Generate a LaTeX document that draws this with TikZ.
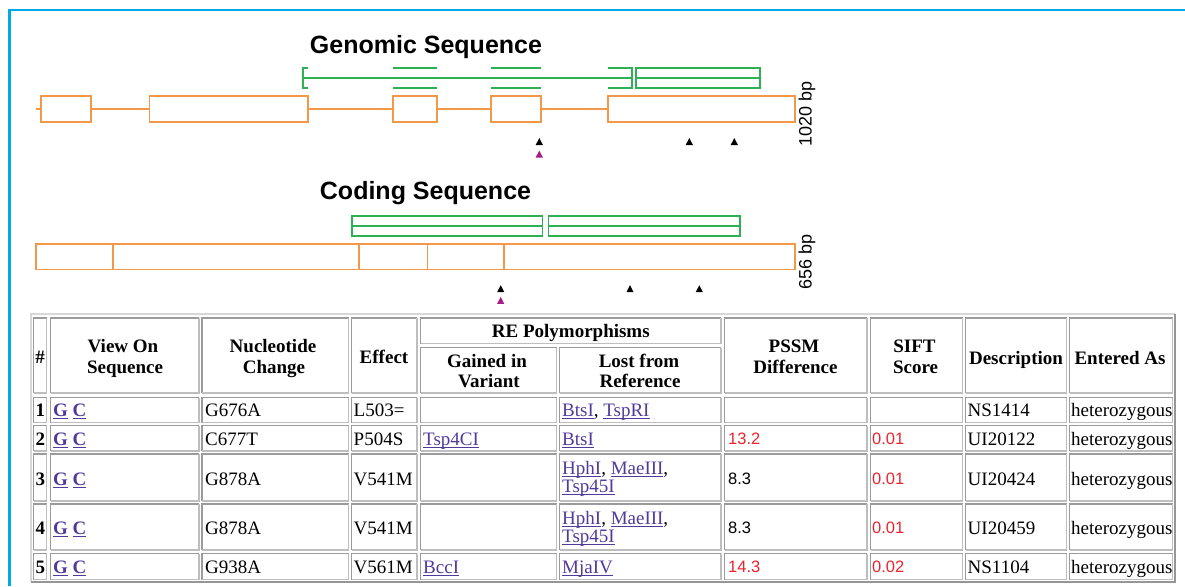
\documentclass[tikz,border=0pt]{standalone}
\usepackage{fontspec}
\setmainfont{Liberation Serif}
\newfontfamily\sansf{Liberation Sans}
\definecolor{orng}{RGB}{242,152,72}
\definecolor{grn}{RGB}{46,177,84}
\definecolor{frameblue}{RGB}{0,170,230}
\definecolor{magn}{RGB}{165,30,135}
\definecolor{linkc}{RGB}{82,58,155}
\definecolor{redn}{RGB}{235,35,45}
\definecolor{cellD}{RGB}{155,155,155}
\definecolor{cellL}{RGB}{190,190,190}
\definecolor{tabL}{RGB}{215,215,215}
\definecolor{tabD}{RGB}{150,150,150}
\newcommand\bdfont{\fontsize{19}{21}\selectfont}
\newcommand\hdfont{\fontsize{19}{21}\selectfont\bfseries}
\newcommand\ttlfont{\sansf\bfseries\fontsize{25}{28}\selectfont}
\newcommand\numfont{\sansf\fontsize{16.5}{19}\selectfont}
\newcommand\bpfont{\sansf\fontsize{18}{20}\selectfont}
\newlength\ulw
\newcommand\lnk[1]{{\color{linkc}\settowidth\ulw{#1}\rlap{\rule[-2.8pt]{\ulw}{1.1pt}}#1}}
\newcommand\mtri[3]{\fill[#3] (#1-3.6,#2+3.5) -- (#1,#2-3.5) -- (#1+3.6,#2+3.5) -- cycle;}
\newcommand\cellbox[4]{\draw[cellD,line width=1.3pt] (#1,#4) -- (#1,#2) -- (#3,#2);
  \draw[cellL,line width=1.3pt] (#3,#2) -- (#3,#4) -- (#1,#4);}
\tikzset{
  exon/.style={draw=orng, line width=1.8pt, fill=white},
  gl/.style={draw=grn, line width=1.8pt},
  ttl/.style={font=\ttlfont, anchor=base, inner sep=0pt},
  bplab/.style={font=\bpfont, rotate=90, inner sep=0pt},
  hd/.style={font=\hdfont, anchor=base, inner sep=0pt},
  bd/.style={font=\bdfont, anchor=base west, inner sep=0pt},
  bdn/.style={font=\hdfont, anchor=base west, inner sep=0pt},
  num/.style={font=\numfont, anchor=base west, inner sep=0pt},
  rnum/.style={font=\numfont, text=redn, anchor=base west, inner sep=0pt},
}
\begin{document}
\begin{tikzpicture}[x=1pt,y=-1pt]
\useasboundingbox (0,0) rectangle (1185,586);
% frame
\draw[frameblue, line width=2.2pt] (9.5,586) -- (9.5,10) -- (1185,10);

% ===== Genomic sequence =====
\node[ttl] (gtitle) at (426,53) {Genomic Sequence};
% green features
\draw[gl] (308,68) -- (303,68) -- (303,88) -- (308,88);
\draw[gl] (303,78) -- (632,78);
\draw[gl] (393,68) -- (437,68) (393,88) -- (437,88);
\draw[gl] (491,68) -- (541,68) (491,88) -- (541,88);
\draw[gl] (608,68) -- (632,68) -- (632,88) -- (608,88);
\draw[gl] (636,68) rectangle (760,88) (636,78) -- (760,78);
% backbone and exons
\draw[orng, line width=1.8pt] (36,109) -- (608,109);
\draw[exon] (41,96) rectangle (91,122);
\draw[exon] (149.5,96) rectangle (308,122);
\draw[exon] (393,96) rectangle (437,122);
\draw[exon] (491,96) rectangle (541,122);
\draw[exon] (608,96) rectangle (795,122);
\node[bplab] (glen) at (807,113.5) {1020 bp};
\mtri{539.3}{141.5}{black}
\mtri{689.3}{141.5}{black}
\mtri{734.3}{141.5}{black}
\mtri{539.3}{154}{magn}

% ===== Coding sequence =====
\node[ttl] (ctitle) at (425.5,199.5) {Coding Sequence};
\draw[gl] (352,216) rectangle (542.5,236) (352,226) -- (542.5,226);
\draw[gl] (548.5,216) rectangle (740,236) (548.5,226) -- (740,226);
\draw[exon] (36,244) rectangle (795,269.5);
\draw[orng, line width=1.8pt] (113,244) -- (113,269.5) (359,244) -- (359,269.5)
  (427.5,244) -- (427.5,269.5) (504,244) -- (504,269.5);
\node[bplab] (clen) at (807,262) {656 bp};
\mtri{500.7}{288.7}{black}
\mtri{630}{288.7}{black}
\mtri{699.3}{288.7}{black}
\mtri{500.7}{300.4}{magn}

% ===== Table =====
\draw[tabL, line width=1.3pt] (31,582) -- (31,314) -- (1175,314);
\draw[tabD, line width=1.3pt] (31,582) -- (1175,582) -- (1175,314);
% header cells
\cellbox{33.5}{318}{46.5}{393}
\cellbox{50.5}{318}{199}{393}
\cellbox{202}{318}{348.5}{393}
\cellbox{351.5}{318}{417}{393}
\cellbox{420.5}{318}{721}{343.5}
\cellbox{420.5}{347.5}{556.5}{393}
\cellbox{559.5}{347.5}{721}{393}
\cellbox{724.5}{318}{867}{393}
\cellbox{870.5}{318}{962.5}{393}
\cellbox{965.5}{318}{1066.5}{393}
\cellbox{1069.5}{318}{1172.5}{393}
% body cells
\foreach \ya/\yb in {397.5/422.5, 425.5/451, 454/501, 504/550, 553.5/579.5}{
  \cellbox{33.5}{\ya}{46.5}{\yb}
  \cellbox{50.5}{\ya}{199}{\yb}
  \cellbox{202}{\ya}{348.5}{\yb}
  \cellbox{351.5}{\ya}{417}{\yb}
  \cellbox{420.5}{\ya}{556.5}{\yb}
  \cellbox{559.5}{\ya}{721}{\yb}
  \cellbox{724.5}{\ya}{867}{\yb}
  \cellbox{870.5}{\ya}{962.5}{\yb}
  \cellbox{965.5}{\ya}{1066.5}{\yb}
  \cellbox{1069.5}{\ya}{1172.5}{\yb}
}
% header text
\node[hd] (hnum) at (40,363.5) {\#};
\node[hd] (hview1) at (123,352) {View On};
\node[hd] (hview2) at (125,373) {Sequence};
\node[hd] (hnuc1) at (273,352) {Nucleotide};
\node[hd] (hnuc2) at (274,373) {Change};
\node[hd] (heff) at (384,363.5) {Effect};
\node[hd] (hre) at (570.8,337.5) {RE Polymorphisms};
\node[hd] (hgain1) at (487,367) {Gained in};
\node[hd] (hgain2) at (489,387) {Variant};
\node[hd] (hlost1) at (639,367) {Lost from};
\node[hd] (hlost2) at (640,387) {Reference};
\node[hd] (hpssm1) at (794,352) {PSSM};
\node[hd] (hpssm2) at (795.5,373) {Difference};
\node[hd] (hsift1) at (914.5,352) {SIFT};
\node[hd] (hsift2) at (915.5,373) {Score};
\node[hd] (hdesc) at (1016,364.5) {Description};
\node[hd] (hent) at (1120,364.5) {Entered As};

% row 1
\node[bdn] (n1) at (35.5,416) {1};
\node[bdn] (v1) at (53,416) {\lnk{G} \lnk{C}};
\node[bd] (c1) at (205,416) {G676A};
\node[bd] (e1) at (353.5,416) {L503=};
\node[bd] (l1) at (562,416) {\lnk{BtsI}, \lnk{TspRI}};
\node[bd] (d1) at (967.5,416) {NS1414};
\node[bd] (a1) at (1071,416) {heterozygous};
% row 2
\node[bdn] (n2) at (35.5,445) {2};
\node[bdn] (v2) at (53,445) {\lnk{G} \lnk{C}};
\node[bd] (c2) at (205,445) {C677T};
\node[bd] (e2) at (353.5,445) {P504S};
\node[bd] (g2) at (423,445) {\lnk{Tsp4CI}};
\node[bd] (l2) at (562,445) {\lnk{BtsI}};
\node[rnum] (p2) at (728,444.5) {13.2};
\node[rnum] (s2) at (872,444.5) {0.01};
\node[bd] (d2) at (967.5,445) {UI20122};
\node[bd] (a2) at (1071,445) {heterozygous};
% row 3
\node[bdn] (n3) at (35.5,485) {3};
\node[bdn] (v3) at (53,485) {\lnk{G} \lnk{C}};
\node[bd] (c3) at (205,485) {G878A};
\node[bd] (e3) at (353.5,485) {V541M};
\node[bd] (l3a) at (562,474) {\lnk{HphI}, \lnk{MaeIII},};
\node[bd] (l3b) at (562,492.5) {\lnk{Tsp45I}};
\node[num] (p3) at (728,484.5) {8.3};
\node[rnum] (s3) at (872,484.5) {0.01};
\node[bd] (d3) at (967.5,485) {UI20424};
\node[bd] (a3) at (1071,485) {heterozygous};
% row 4
\node[bdn] (n4) at (35.5,534) {4};
\node[bdn] (v4) at (53,534) {\lnk{G} \lnk{C}};
\node[bd] (c4) at (205,534) {G878A};
\node[bd] (e4) at (353.5,534) {V541M};
\node[bd] (l4a) at (562,524) {\lnk{HphI}, \lnk{MaeIII},};
\node[bd] (l4b) at (562,542.5) {\lnk{Tsp45I}};
\node[num] (p4) at (728,533.5) {8.3};
\node[rnum] (s4) at (872,533.5) {0.01};
\node[bd] (d4) at (967.5,534) {UI20459};
\node[bd] (a4) at (1071,534) {heterozygous};
% row 5
\node[bdn] (n5) at (35.5,573) {5};
\node[bdn] (v5) at (53,573) {\lnk{G} \lnk{C}};
\node[bd] (c5) at (205,573) {G938A};
\node[bd] (e5) at (353.5,573) {V561M};
\node[bd] (g5) at (423,573) {\lnk{BccI}};
\node[bd] (l5) at (562,573) {\lnk{MjaIV}};
\node[rnum] (p5) at (728,572.5) {14.3};
\node[rnum] (s5) at (872,572.5) {0.02};
\node[bd] (d5) at (967.5,573) {NS1104};
\node[bd] (a5) at (1071,573) {heterozygous};
\end{tikzpicture}
\end{document}
